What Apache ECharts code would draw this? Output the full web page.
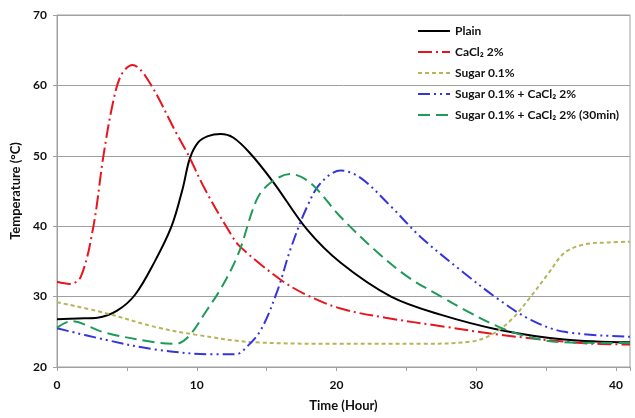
<!DOCTYPE html>
<html>
<head>
<meta charset="utf-8">
<script src="https://cdn.jsdelivr.net/npm/echarts@6/dist/echarts.min.js"></script>
<style>
  html, body { margin: 0; padding: 0; background: #fff; }
  #chart { width: 635px; height: 418px; }
</style>
</head>
<body>
<div id="chart"></div>
<script>
// time (hour) and temperature (°C) per series
var plainX = [0, 1.5, 2.9, 4.3, 5.6, 7.0, 8.2, 9.0, 9.5, 10.1, 10.8, 11.7, 12.6, 13.8, 15.5, 17.9, 20.3, 23.9, 27.5, 31.6, 36.3, 41];
var plainY = [26.8, 26.9, 27.0, 28.0, 30.3, 35.0, 40.0, 45.4, 49.6, 51.9, 52.8, 53.1, 52.6, 50.4, 46.2, 39.5, 34.8, 30.0, 27.4, 25.3, 23.9, 23.5];

var cacl2X = [0, 0.9, 1.7, 2.6, 3.3, 4.0, 4.6, 5.4, 6.5, 8.6, 9.4, 10.6, 12.4, 13.1, 16.0, 17.9, 20.3, 23.5, 27.5, 31.6, 37.5, 41];
var cacl2Y = [32.1, 31.8, 32.8, 39.9, 49.7, 57.5, 61.5, 62.9, 60.8, 53.0, 50.1, 45.2, 39.0, 37.1, 32.4, 30.2, 28.3, 27.0, 25.8, 24.6, 23.4, 23.2];

var sugarX = [0, 3.4, 7.0, 9.9, 14.2, 20, 26, 29.6, 31.1, 32.5, 33.9, 35.2, 36.3, 37.7, 39.5, 41];
var sugarY = [29.2, 27.7, 25.7, 24.6, 23.5, 23.3, 23.3, 23.6, 24.6, 26.7, 30.0, 33.4, 36.2, 37.4, 37.7, 37.8];

var sugarCaX = [0, 3.4, 7.0, 11.3, 12.8, 13.6, 14.6, 15.8, 16.7, 17.9, 18.9, 20.3, 21.7, 23.9, 26.0, 29.1, 31.6, 33.9, 36.3, 41];
var sugarCaY = [25.5, 23.9, 22.5, 21.8, 21.8, 22.9, 25.3, 31.0, 36.7, 42.8, 46.2, 47.9, 46.9, 42.8, 38.5, 33.4, 29.6, 26.7, 25.0, 24.3];

var sugarCa30X = [0, 1.0, 3.4, 7.0, 8.5, 9.4, 10.6, 11.8, 13.0, 14.3, 15.3, 16.7, 18.1, 20.3, 22.7, 25.1, 27.5, 29.1, 31.6, 33.9, 36.3, 41];
var sugarCa30Y = [25.6, 26.5, 24.9, 23.5, 23.3, 24.3, 27.7, 31.4, 36.2, 43.8, 46.2, 47.4, 46.2, 41.3, 36.7, 32.8, 30.0, 28.2, 25.7, 24.2, 23.5, 23.4];

var seriesNames = ['Plain', 'CaCl₂ 2%', 'Sugar 0.1%', 'Sugar 0.1% + CaCl₂ 2%', 'Sugar 0.1% + CaCl₂ 2% (30min)'];

function pairs(xs, ys) {
  return xs.map(function (x, i) { return [x, ys[i]]; });
}

var font = 'Lato, "Liberation Sans", sans-serif';

var chart = echarts.init(document.getElementById('chart'), null, { renderer: 'canvas' });

function line(name, data, color, dash) {
  return {
    name: name,
    type: 'line',
    smooth: 0.35,
    symbol: 'none',
    data: data,
    lineStyle: { color: color, width: 2, type: dash },
    itemStyle: { color: color }
  };
}

var option = {
  backgroundColor: '#fff',
  animation: false,
  textStyle: { fontFamily: font },
  grid: {
    left: 57, right: 5, top: 15, bottom: 51,
    show: true, borderColor: '#a0a0a0', borderWidth: 1
  },
  legend: {
    orient: 'vertical',
    left: 412, top: 20,
    itemWidth: 32, itemHeight: 14, itemGap: 9,
    itemStyle: { opacity: 0 },
    textStyle: { fontFamily: font, fontWeight: 'bold', fontSize: 12, color: '#111' },
    data: seriesNames
  },
  xAxis: {
    type: 'value',
    min: 0, max: 41, interval: 5,
    name: 'Time (Hour)',
    nameLocation: 'middle',
    nameGap: 32,
    nameTextStyle: { fontFamily: font, fontWeight: 'bold', fontSize: 13, color: '#111' },
    axisLine: { show: true, lineStyle: { color: '#a0a0a0' } },
    axisTick: { show: true, length: 4, lineStyle: { color: '#a0a0a0' } },
    splitLine: { show: false },
    axisLabel: {
      margin: 12,
      fontFamily: font, fontWeight: 'bold', fontSize: 12, color: '#111',
      formatter: function (v) { return v % 10 === 0 ? String(v) : ''; }
    }
  },
  yAxis: {
    type: 'value',
    min: 20, max: 70, interval: 10,
    name: 'Temperature (°C)',
    nameLocation: 'middle',
    nameGap: 30,
    nameTextStyle: { fontFamily: font, fontWeight: 'bold', fontSize: 13, color: '#111' },
    axisLine: { show: true, lineStyle: { color: '#a0a0a0' } },
    axisTick: { show: true, length: 4, lineStyle: { color: '#a0a0a0' } },
    splitLine: { show: true, lineStyle: { color: '#a0a0a0', width: 1 } },
    axisLabel: { margin: 10, fontFamily: font, fontWeight: 'bold', fontSize: 12, color: '#111' }
  },
  series: [
    line(seriesNames[0], pairs(plainX, plainY), '#000000', 'solid'),
    line(seriesNames[1], pairs(cacl2X, cacl2Y), '#e8141e', [14, 4, 2, 4]),
    line(seriesNames[2], pairs(sugarX, sugarY), '#b5b55a', [4, 3]),
    line(seriesNames[3], pairs(sugarCaX, sugarCaY), '#3535dc', [12, 4, 2, 4, 2, 4]),
    line(seriesNames[4], pairs(sugarCa30X, sugarCa30Y), '#1f9a5a', [12, 6])
  ]
};

chart.setOption(option);
</script>
</body>
</html>
